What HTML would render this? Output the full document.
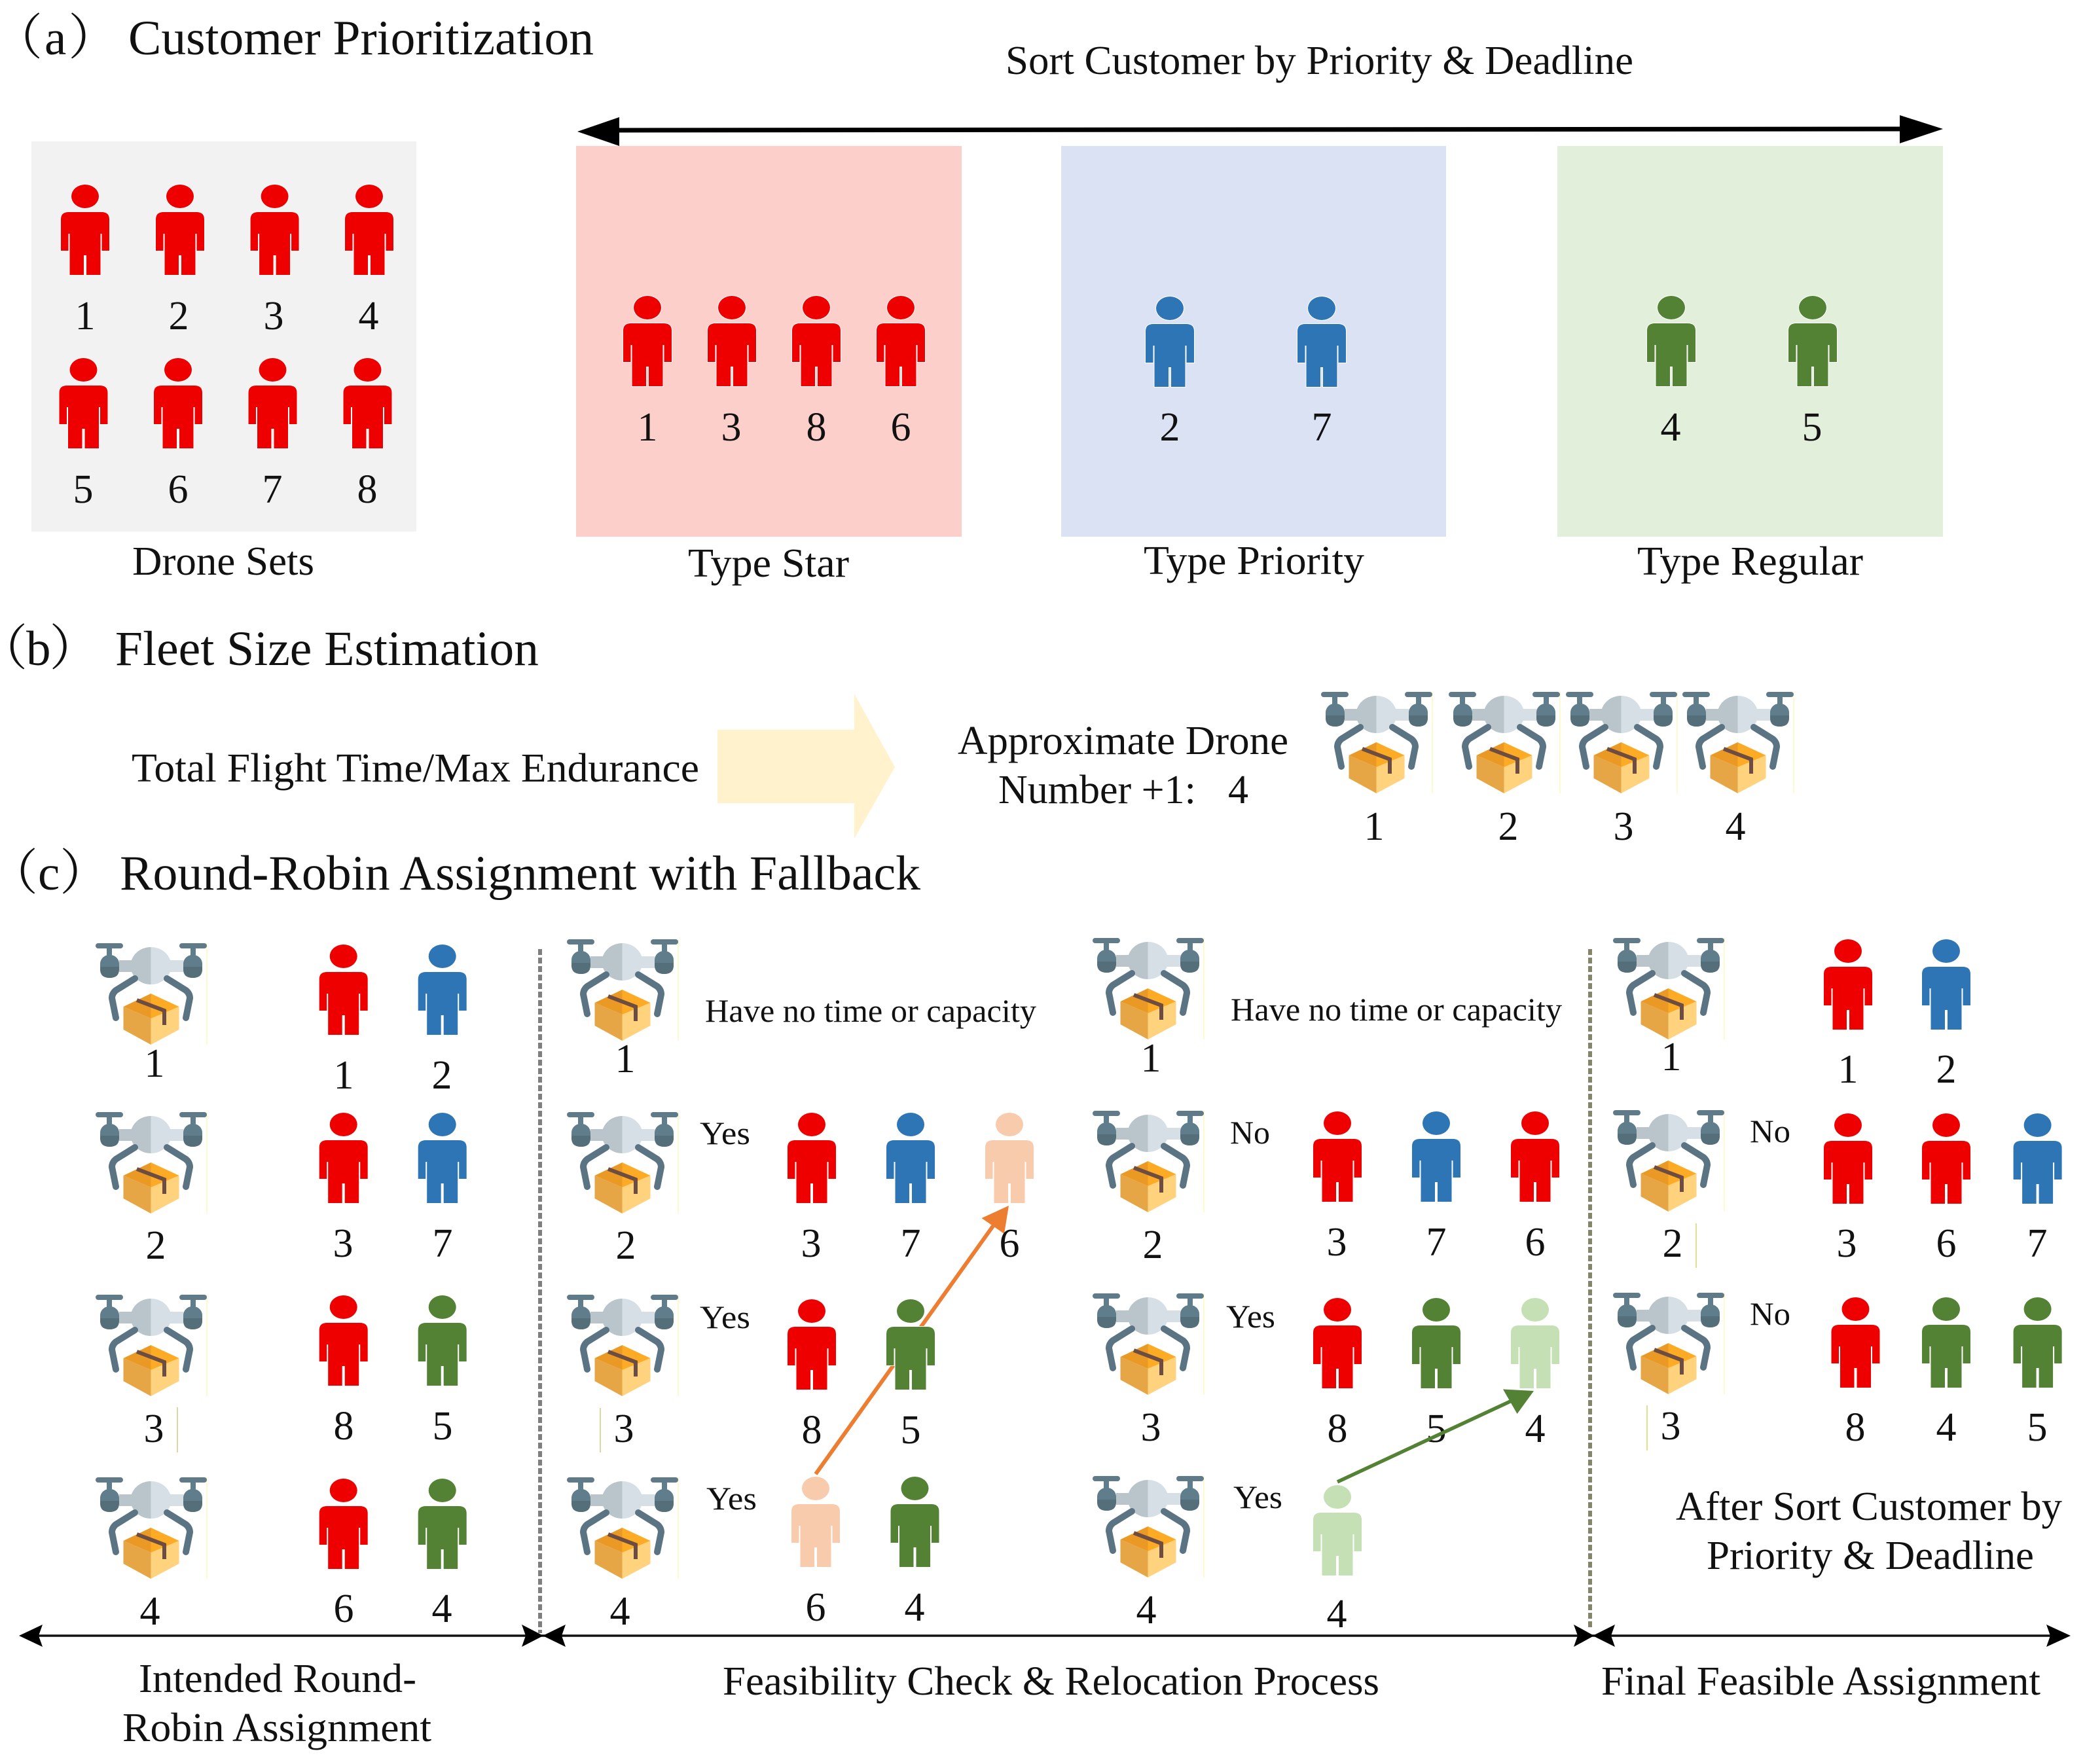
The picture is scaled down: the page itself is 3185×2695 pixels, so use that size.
<!DOCTYPE html>
<html lang="en">
<head>
<meta charset="utf-8">
<title>Customer Prioritization and Round-Robin Assignment</title>
<style>
html,body{margin:0;padding:0;background:#fff;}
svg{display:block;}
text{font-family:"Liberation Serif","Noto Serif CJK SC",serif;fill:#111;}
.d{font-size:62px;text-anchor:middle;}
.l{font-size:62px;}
.h{font-size:75px;}
.s{font-size:50px;}
</style>
</head>
<body>
<svg xmlns="http://www.w3.org/2000/svg" width="3185" height="2695" viewBox="0 0 3185 2695">
<defs>
<g id="person" stroke="#fff" stroke-width="2" paint-order="stroke">
<ellipse cx="0" cy="18" rx="21" ry="18"/>
<path d="M-37,53 Q-37,42 -25,42 L25,42 Q37,42 37,53 L37,101 L25.5,101 L25.5,75 L23.5,75 L23.5,138 L2,138 L2,108 L-2,108 L-2,138 L-23.5,138 L-23.5,75 L-25.5,75 L-25.5,101 L-37,101 Z"/>
</g>
<g id="drone">
<line x1="170" y1="0" x2="170" y2="155" stroke="#fdf8c0" stroke-width="1.5"/>
<rect x="0" y="0" width="42" height="8" rx="4" fill="#5f7b8a"/>
<rect x="128" y="0" width="42" height="8" rx="4" fill="#5f7b8a"/>
<rect x="17" y="8" width="8" height="12" fill="#607d8b"/>
<rect x="145" y="8" width="8" height="12" fill="#607d8b"/>
<rect x="36" y="26" width="49" height="18" fill="#b9c4cb"/>
<rect x="84.5" y="26" width="50" height="18" fill="#d5dfe5"/>
<path d="M84.5,6 A31,28.5 0 0 0 84.5,63 Z" fill="#b9c4cb"/>
<path d="M84.5,6 A31,28.5 0 0 1 84.5,63 Z" fill="#d5dfe5"/>
<rect x="7" y="18" width="29" height="35" rx="13.5" fill="#607d8b"/>
<rect x="134" y="18" width="29" height="35" rx="13.5" fill="#607d8b"/>
<path d="M7,36 H36 V40 Q36,53 21.5,53 Q7,53 7,40 Z" fill="#546e7a"/>
<path d="M134,36 H163 V40 Q163,53 148.5,53 Q134,53 134,40 Z" fill="#546e7a"/>
<path d="M60,54 L31,72 Q25,77 25,84 L31,114" fill="none" stroke="#5a7483" stroke-width="10" stroke-linecap="round" stroke-linejoin="round"/>
<path d="M109,54 L138,72 Q144,77 144,84 L138,114" fill="none" stroke="#5a7483" stroke-width="10" stroke-linecap="round" stroke-linejoin="round"/>
<path d="M42.5,97 L84.5,115 V155 L42.5,132 Z" fill="#e6a646"/>
<path d="M127.5,97 L84.5,115 V155 L127.5,132 Z" fill="#ffd27e"/>
<path d="M84.5,77 L42.5,97 L84.5,115 Z" fill="#ea9a24"/>
<path d="M84.5,77 L127.5,97 L84.5,115 Z" fill="#fdab25"/>
<path d="M63,87 L105,103 V125" fill="none" stroke="#6d4c41" stroke-width="6"/>
</g>
</defs>

<rect width="3185" height="2695" fill="#fff"/>

<!-- (a) -->
<text class="h" x="-10" y="83" letter-spacing="3">（a）</text>
<text class="h" x="196" y="83" textLength="711" lengthAdjust="spacingAndGlyphs">Customer Prioritization</text>
<text class="l" x="1536" y="113" textLength="959" lengthAdjust="spacingAndGlyphs">Sort Customer by Priority &amp; Deadline</text>

<rect x="48" y="216" width="588" height="596" fill="#f2f2f2"/>
<rect x="880" y="223" width="589" height="597" fill="#fdcfcb"/>
<rect x="1621" y="223" width="588" height="597" fill="#dbe2f3"/>
<rect x="2379" y="223" width="589" height="597" fill="#e2efda"/>

<line x1="930" y1="199" x2="2915" y2="197" stroke="#000" stroke-width="7"/>
<polygon points="882,201 946,179 946,223" fill="#000"/>
<polygon points="2968,197 2902,176 2902,219" fill="#000"/>

<use href="#person" x="130" y="282" fill="#ee0000"/>
<use href="#person" x="275" y="282" fill="#ee0000"/>
<use href="#person" x="419.6" y="282" fill="#ee0000"/>
<use href="#person" x="564" y="282" fill="#ee0000"/>
<use href="#person" x="127.5" y="547" fill="#ee0000"/>
<use href="#person" x="272" y="547" fill="#ee0000"/>
<use href="#person" x="416.5" y="547" fill="#ee0000"/>
<use href="#person" x="561.5" y="547" fill="#ee0000"/>
<text class="d" x="130" y="503">1</text>
<text class="d" x="273" y="503">2</text>
<text class="d" x="418" y="503">3</text>
<text class="d" x="563" y="503">4</text>
<text class="d" x="127" y="768">5</text>
<text class="d" x="272" y="768">6</text>
<text class="d" x="416" y="768">7</text>
<text class="d" x="561" y="768">8</text>
<text class="l" x="202" y="878" textLength="278" lengthAdjust="spacingAndGlyphs">Drone Sets</text>

<use href="#person" x="989" y="452" fill="#ee0000"/>
<use href="#person" x="1118" y="452" fill="#ee0000"/>
<use href="#person" x="1247" y="452" fill="#ee0000"/>
<use href="#person" x="1376" y="452" fill="#ee0000"/>
<text class="d" x="989" y="673">1</text>
<text class="d" x="1117" y="673">3</text>
<text class="d" x="1247" y="673">8</text>
<text class="d" x="1376" y="673">6</text>
<text class="l" x="1051" y="881" textLength="246" lengthAdjust="spacingAndGlyphs">Type Star</text>

<use href="#person" x="1787" y="453" fill="#2e75b6"/>
<use href="#person" x="2019" y="453" fill="#2e75b6"/>
<text class="d" x="1787" y="673">2</text>
<text class="d" x="2019" y="673">7</text>
<text class="l" x="1747" y="877" textLength="337" lengthAdjust="spacingAndGlyphs">Type Priority</text>

<use href="#person" x="2553" y="452" fill="#548235"/>
<use href="#person" x="2769" y="452" fill="#548235"/>
<text class="d" x="2552" y="673">4</text>
<text class="d" x="2768" y="673">5</text>
<text class="l" x="2501" y="878" textLength="345" lengthAdjust="spacingAndGlyphs">Type Regular</text>

<!-- (b) -->
<text class="h" x="-33" y="1016" letter-spacing="-2">（b）</text>
<text class="h" x="176" y="1016" textLength="647" lengthAdjust="spacingAndGlyphs">Fleet Size Estimation</text>
<text class="l" x="201" y="1194" textLength="867" lengthAdjust="spacingAndGlyphs">Total Flight Time/Max Endurance</text>
<polygon points="1096,1115 1305,1115 1305,1060 1367,1172 1305,1281 1305,1227 1096,1227" fill="#fff2cc"/>
<text class="l" x="1463" y="1152" textLength="505" lengthAdjust="spacingAndGlyphs">Approximate Drone</text>
<text class="l" x="1525" y="1227">Number +1:</text>
<text class="l" x="1876" y="1227">4</text>

<use href="#drone" x="2018" y="1057"/>
<use href="#drone" x="2213" y="1057"/>
<use href="#drone" x="2392" y="1057"/>
<use href="#drone" x="2570" y="1057"/>
<text class="d" x="2099" y="1283">1</text>
<text class="d" x="2304" y="1283">2</text>
<text class="d" x="2480" y="1283">3</text>
<text class="d" x="2651" y="1283">4</text>

<!-- (c) -->
<text class="h" x="-17" y="1359">（c）</text>
<text class="h" x="183" y="1359" textLength="1223" lengthAdjust="spacingAndGlyphs">Round-Robin Assignment with Fallback</text>

<line x1="825" y1="1450" x2="825" y2="2495" stroke="#7f7f7f" stroke-width="6" stroke-dasharray="9 4"/>
<line x1="2429" y1="1450" x2="2429" y2="2490" stroke="#85856a" stroke-width="6" stroke-dasharray="9 4"/>

<line x1="50" y1="2499" x2="3140" y2="2499" stroke="#111" stroke-width="3.5"/>
<polygon points="29,2499 65,2482 59,2499 65,2516" fill="#000"/>
<polygon points="830,2499 797,2482 803,2499 797,2516" fill="#000"/>
<polygon points="829,2499 864,2482 858,2499 864,2516" fill="#000"/>
<polygon points="2435,2499 2404,2482 2410,2499 2404,2516" fill="#000"/>
<polygon points="2433,2499 2467,2482 2461,2499 2467,2516" fill="#000"/>
<polygon points="3163,2499 3126,2482 3132,2499 3126,2516" fill="#000"/>

<!-- column 1 -->
<use href="#drone" x="146" y="1441"/>
<use href="#drone" x="146" y="1699"/>
<use href="#drone" x="146" y="1978"/>
<use href="#drone" x="146" y="2257"/>
<text class="d" x="236" y="1645">1</text>
<text class="d" x="238" y="1923">2</text>
<text class="d" x="235" y="2203">3</text>
<text class="d" x="229" y="2482">4</text>
<line x1="271" y1="2150" x2="271" y2="2219" stroke="#d8d8a8" stroke-width="2"/>

<use href="#person" x="524.7" y="1443" fill="#ee0000"/>
<use href="#person" x="675.7" y="1443" fill="#2e75b6"/>
<use href="#person" x="524.7" y="1700" fill="#ee0000"/>
<use href="#person" x="675.7" y="1700" fill="#2e75b6"/>
<use href="#person" x="524.7" y="1979" fill="#ee0000"/>
<use href="#person" x="675.7" y="1979" fill="#548235"/>
<use href="#person" x="524.7" y="2259" fill="#ee0000"/>
<use href="#person" x="675.7" y="2259" fill="#548235"/>
<text class="d" x="525" y="1663">1</text>
<text class="d" x="675" y="1663">2</text>
<text class="d" x="524" y="1920">3</text>
<text class="d" x="676" y="1920">7</text>
<text class="d" x="525" y="2199">8</text>
<text class="d" x="676" y="2199">5</text>
<text class="d" x="525" y="2478">6</text>
<text class="d" x="675" y="2478">4</text>
<text class="l" x="212" y="2585" textLength="424" lengthAdjust="spacingAndGlyphs">Intended Round-</text>
<text class="l" x="187" y="2660" textLength="472" lengthAdjust="spacingAndGlyphs">Robin Assignment</text>

<!-- column 2 -->
<line x1="1246" y1="2252" x2="1517" y2="1873" stroke="#ed7d31" stroke-width="6"/>
<polygon points="1541,1842 1499.5,1861 1534,1885" fill="#ed7d31"/>
<use href="#drone" x="866" y="1435"/>
<use href="#drone" x="866" y="1699"/>
<use href="#drone" x="866" y="1978"/>
<use href="#drone" x="866" y="2257"/>
<text class="d" x="955" y="1638">1</text>
<text class="d" x="956" y="1923">2</text>
<text class="d" x="953" y="2203">3</text>
<text class="d" x="947" y="2482">4</text>
<line x1="917" y1="2151" x2="917" y2="2219" stroke="#d8d8a8" stroke-width="2"/>
<text class="s" x="1077" y="1561" textLength="506" lengthAdjust="spacingAndGlyphs">Have no time or capacity</text>
<text class="s" x="1069" y="1748" textLength="77" lengthAdjust="spacingAndGlyphs">Yes</text>
<text class="s" x="1069" y="2029" textLength="77" lengthAdjust="spacingAndGlyphs">Yes</text>
<text class="s" x="1079" y="2306" textLength="77" lengthAdjust="spacingAndGlyphs">Yes</text>

<use href="#person" x="1240" y="1700" fill="#ee0000"/>
<use href="#person" x="1391" y="1700" fill="#2e75b6"/>
<use href="#person" x="1542" y="1700" fill="#f8cbad"/>
<use href="#person" x="1240" y="1985" fill="#ee0000"/>
<use href="#person" x="1391" y="1985" fill="#548235"/>
<use href="#person" x="1246" y="2256" fill="#f8cbad"/>
<use href="#person" x="1397.5" y="2256" fill="#548235"/>
<text class="d" x="1239" y="1920">3</text>
<text class="d" x="1391" y="1920">7</text>
<text class="d" x="1542" y="1920">6</text>
<text class="d" x="1240" y="2205">8</text>
<text class="d" x="1391" y="2205">5</text>
<text class="d" x="1246" y="2476">6</text>
<text class="d" x="1397" y="2476">4</text>

<!-- column 3 -->
<use href="#drone" x="1669" y="1433"/>
<use href="#drone" x="1669" y="1697"/>
<use href="#drone" x="1669" y="1976"/>
<use href="#drone" x="1669" y="2255"/>
<text class="d" x="1758" y="1637">1</text>
<text class="d" x="1761" y="1922">2</text>
<text class="d" x="1758" y="2201">3</text>
<text class="d" x="1751" y="2480">4</text>
<text class="s" x="1880" y="1559" textLength="506" lengthAdjust="spacingAndGlyphs">Have no time or capacity</text>
<text class="s" x="1879" y="1747" textLength="61" lengthAdjust="spacingAndGlyphs">No</text>
<text class="s" x="1873" y="2028" textLength="75" lengthAdjust="spacingAndGlyphs">Yes</text>
<text class="s" x="1884" y="2304" textLength="75" lengthAdjust="spacingAndGlyphs">Yes</text>

<use href="#person" x="2043" y="1698" fill="#ee0000"/>
<use href="#person" x="2194" y="1698" fill="#2e75b6"/>
<use href="#person" x="2345" y="1698" fill="#ee0000"/>
<use href="#person" x="2043" y="1983" fill="#ee0000"/>
<use href="#person" x="2194" y="1983" fill="#548235"/>
<use href="#person" x="2345" y="1983" fill="#c5e0b4"/>
<use href="#person" x="2043" y="2269" fill="#c5e0b4"/>
<text class="d" x="2042" y="1918">3</text>
<text class="d" x="2194" y="1918">7</text>
<text class="d" x="2345" y="1918">6</text>
<text class="d" x="2043" y="2203">8</text>
<text class="d" x="2194" y="2203">5</text>
<text class="d" x="2345" y="2203">4</text>
<text class="d" x="2042" y="2486">4</text>
<line x1="2043" y1="2264" x2="2307" y2="2141" stroke="#548235" stroke-width="5.5"/>
<polygon points="2343,2125 2296,2122.5 2317.6,2160" fill="#548235"/>
<text class="l" x="1104" y="2589" textLength="1003" lengthAdjust="spacingAndGlyphs">Feasibility Check &amp; Relocation Process</text>

<!-- column 4 -->
<use href="#drone" x="2464" y="1433"/>
<use href="#drone" x="2464" y="1696"/>
<use href="#drone" x="2464" y="1975"/>
<text class="d" x="2553" y="1635">1</text>
<text class="d" x="2555" y="1920">2</text>
<text class="d" x="2552" y="2199">3</text>
<line x1="2591" y1="1869" x2="2591" y2="1937" stroke="#e0e090" stroke-width="2"/>
<line x1="2516" y1="2147" x2="2516" y2="2216" stroke="#e0e090" stroke-width="2"/>
<text class="s" x="2673" y="1745" textLength="62" lengthAdjust="spacingAndGlyphs">No</text>
<text class="s" x="2673" y="2024" textLength="62" lengthAdjust="spacingAndGlyphs">No</text>

<use href="#person" x="2823" y="1435" fill="#ee0000"/>
<use href="#person" x="2973" y="1435" fill="#2e75b6"/>
<use href="#person" x="2823" y="1701" fill="#ee0000"/>
<use href="#person" x="2973" y="1701" fill="#ee0000"/>
<use href="#person" x="3112.6" y="1701" fill="#2e75b6"/>
<use href="#person" x="2834.5" y="1982" fill="#ee0000"/>
<use href="#person" x="2973" y="1982" fill="#548235"/>
<use href="#person" x="3112.6" y="1982" fill="#548235"/>
<text class="d" x="2823" y="1654">1</text>
<text class="d" x="2973" y="1654">2</text>
<text class="d" x="2821" y="1920">3</text>
<text class="d" x="2973" y="1920">6</text>
<text class="d" x="3112" y="1920">7</text>
<text class="d" x="2834" y="2201">8</text>
<text class="d" x="2973" y="2201">4</text>
<text class="d" x="3112" y="2201">5</text>
<text class="l" x="2560" y="2322" textLength="590" lengthAdjust="spacingAndGlyphs">After Sort Customer by</text>
<text class="l" x="2607" y="2397" textLength="500" lengthAdjust="spacingAndGlyphs">Priority &amp; Deadline</text>
<text class="l" x="2446" y="2589" textLength="671" lengthAdjust="spacingAndGlyphs">Final Feasible Assignment</text>
</svg>
</body>
</html>
